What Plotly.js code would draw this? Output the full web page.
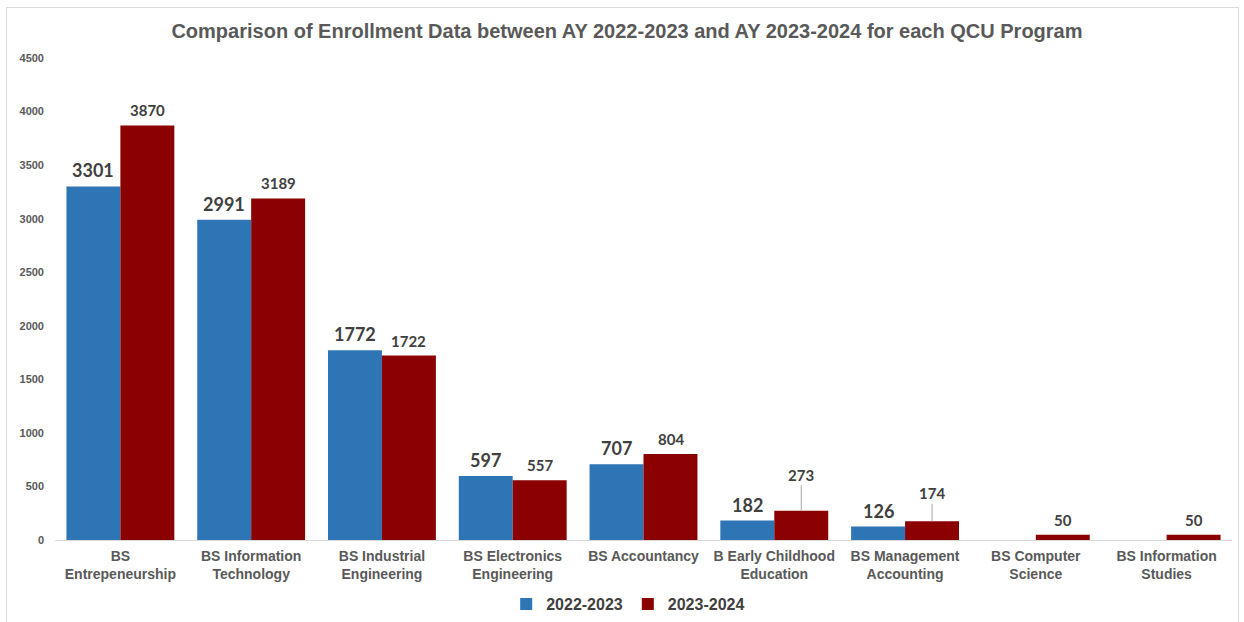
<!DOCTYPE html>
<html>
<head>
<meta charset="utf-8">
<script src="https://cdn.plot.ly/plotly-3.0.1.min.js"></script>
<style>
  html, body { margin: 0; padding: 0; background: #fff; overflow: hidden; }
  #wrap { position: relative; width: 1244px; height: 622px; }
  #chart { width: 1244px; height: 622px; }
  #frame { position: absolute; left: 6px; top: 7px; width: 1233px; height: 620px;
           border: 1px solid #DADADA; pointer-events: none; box-sizing: border-box; }
</style>
</head>
<body>
<div id="wrap">
  <div id="chart"></div>
  <div id="frame"></div>
</div>
<script>
const categories = [
  'BS<br>Entrepeneurship',
  'BS Information<br>Technology',
  'BS Industrial<br>Engineering',
  'BS Electronics<br>Engineering',
  'BS Accountancy',
  'B Early Childhood<br>Education',
  'BS Management<br>Accounting',
  'BS Computer<br>Science',
  'BS Information<br>Studies'
];
const seriesNames = ['2022-2023', '2023-2024'];
const values2223 = [3301, 2991, 1772, 597, 707, 182, 126, null, null];
const values2324 = [3870, 3189, 1722, 557, 804, 273, 174, 50, 50];
const yTicks = [0, 500, 1000, 1500, 2000, 2500, 3000, 3500, 4000, 4500];

const BLUE = '#2E75B6';
const RED = '#8B0000';
const LABEL_FONT = 'Lato, "Open Sans", sans-serif';

const traces = [
  { type: 'bar', name: seriesNames[0], x: categories, y: values2223,
    marker: { color: BLUE }, hoverinfo: 'x+y' },
  { type: 'bar', name: seriesNames[1], x: categories, y: values2324,
    marker: { color: RED }, hoverinfo: 'x+y' }
];

// leader-line offsets (pixels) for labels lifted above small bars
const leaderLift = { 'B Early Childhood<br>Education': -36, 'BS Management<br>Accounting': -28 };

const annotations = [];
categories.forEach((c, i) => {
  const v1 = values2223[i];
  if (v1 !== null) {
    annotations.push({ x: c, y: v1, xref: 'x', yref: 'y', text: String(v1),
      showarrow: false, xshift: -27, yanchor: 'bottom', yshift: 3,
      font: { family: LABEL_FONT, size: 18, color: '#404040', weight: 'bold' } });
  }
  const v2 = values2324[i];
  if (v2 !== null) {
    if (leaderLift[c] !== undefined && v1 !== null) {
      annotations.push({ x: c, y: v2, xref: 'x', yref: 'y', text: String(v2),
        showarrow: true, arrowhead: 0, arrowwidth: 1, arrowcolor: '#A6A6A6',
        standoff: 0, ax: 0, ay: leaderLift[c], xshift: 27,
        font: { family: LABEL_FONT, size: 15, color: '#404040', weight: 'bold' } });
    } else {
      annotations.push({ x: c, y: v2, xref: 'x', yref: 'y', text: String(v2),
        showarrow: false, xshift: 27, yanchor: 'bottom', yshift: 4,
        font: { family: LABEL_FONT, size: 15, color: '#404040', weight: 'bold' } });
    }
  }
});

const layout = {
  width: 1244, height: 622,
  margin: { l: 55, r: 12, t: 58, b: 82, autoexpand: false },
  paper_bgcolor: '#ffffff', plot_bgcolor: '#ffffff',
  title: {
    text: 'Comparison of Enrollment Data between AY 2022-2023 and AY 2023-2024 for each QCU Program',
    x: 0.504, xanchor: 'center', y: 0.95, yanchor: 'middle',
    font: { family: '"Liberation Sans", Arial, sans-serif', size: 20, color: '#595959', weight: 'bold' }
  },
  barmode: 'group', bargap: 0.175, bargroupgap: 0,
  xaxis: {
    type: 'category', showgrid: false, showline: true, linecolor: '#D9D9D9', linewidth: 1,
    ticks: '', zeroline: false, automargin: false, ticklabelstandoff: 3,
    tickfont: { family: '"Liberation Sans", Arial, sans-serif', size: 14, color: '#595959', weight: 'bold' }
  },
  yaxis: {
    range: [0, 4500], tickvals: yTicks, ticktext: yTicks.map(String),
    showgrid: false, zeroline: false, showline: false, ticks: '', automargin: false,
    ticklabelstandoff: 10,
    tickfont: { family: '"Liberation Sans", Arial, sans-serif', size: 11, color: '#595959', weight: 'bold' }
  },
  legend: {
    orientation: 'h', x: 0.487, xanchor: 'center', y: -0.133, yanchor: 'middle',
    font: { family: '"Liberation Sans", Arial, sans-serif', size: 16, color: '#404040', weight: 'bold' },
    itemwidth: 30, tracegroupgap: 0
  },
  annotations: annotations,
  showlegend: true
};

Plotly.newPlot('chart', traces, layout, { displayModeBar: false, staticPlot: true });
</script>
</body>
</html>
